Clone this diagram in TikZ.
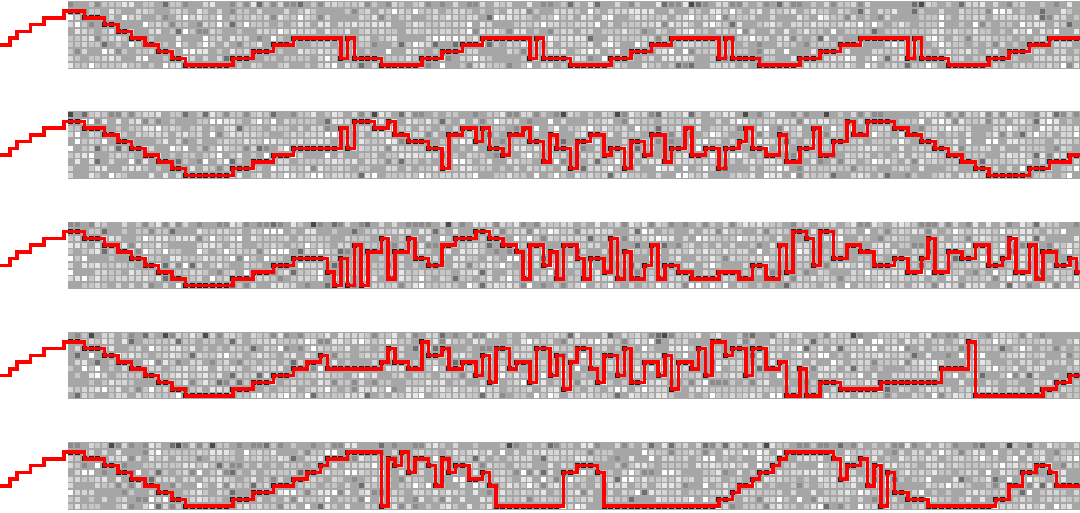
\documentclass[tikz,border=0pt]{standalone}
\definecolor{gbg}{HTML}{A6A6A6}
\definecolor{g1}{HTML}{FFFFFF}
\definecolor{g2}{HTML}{E6E6E6}
\definecolor{g3}{HTML}{D6D6D6}
\definecolor{g4}{HTML}{C6C6C6}
\definecolor{g5}{HTML}{8C8C8C}
\definecolor{g6}{HTML}{6E6E6E}
\definecolor{g7}{HTML}{4A4A4A}
\definecolor{g8}{HTML}{1E1E1E}
\tikzset{redpath/.style={draw=red, line width=3.6pt, line join=miter, line cap=butt}}
\newcommand\pickcolor[2]{%
  \ifnum#2=0
    \ifnum#1<10 \def\cc{gbg}\else\ifnum#1<17 \def\cc{g5}\else\ifnum#1<20 \def\cc{g6}\else\ifnum#1<21 \def\cc{g7}\else\ifnum#1<29 \def\cc{g4}\else\ifnum#1<36 \def\cc{g3}\else\def\cc{g2}\fi\fi\fi\fi\fi\fi
  \else
    \ifnum#1<9 \def\cc{gbg}\else\ifnum#1<20 \def\cc{g4}\else\ifnum#1<29 \def\cc{g3}\else\ifnum#1<34 \def\cc{g2}\else\ifnum#1<37 \def\cc{g1}\else\ifnum#1<39 \def\cc{g5}\else\def\cc{g6}\fi\fi\fi\fi\fi\fi
  \fi}
\newcommand\drawpanel[2]{%
  \pgfmathsetmacro\ptop{1+110.25*#1}
  \fill[gbg] (67.5,\ptop) rectangle (1080,\ptop+67.5);
  \foreach \c in {0,...,149}{
    \foreach \r in {0,...,9}{
      \pgfmathrandominteger{\v}{0}{39}
      \pickcolor{\v}{\r}
      \fill[\cc] ({67.5+6.75*\c+0.9},{\ptop+6.75*\r+0.9}) rectangle ++(4.95,4.95);
    }
  }
  \foreach \c/\r [remember=\c as \lc (initially -10), remember=\r as \lr (initially 6)] in #2 {
    \pgfmathtruncatemacro\cm{\c-1}
    \foreach \j in {\lc,...,\cm}{
      \ifnum\j>-1 \ifnum\j<150
        \fill[g8] ({67.5+6.75*\j+0.9},{\ptop+6.75*\lr+0.9}) rectangle ++(4.95,4.95);
      \fi\fi
    }
  }
  \draw[redpath] (0,{\ptop+3.375+6.75*6})
    \foreach \c/\r in #2 { -| ({70.875+6.75*\c},{\ptop+3.375+6.75*\r}) };
}
\def\pathA{-9/5,-8/4,-6/3,-4/2,-1/1,2/2,5/3,7/4,9/5,11/6,13/7,15/8,17/9,24/8,27/7,30/6,33/5,40/8,41/5,42/8,46/9,52/8,55/7,58/6,61/5,68/8,69/5,70/8,74/9,80/8,83/7,86/6,89/5,96/8,97/5,98/8,102/9,108/8,111/7,114/6,117/5,124/8,125/5,126/8,130/9,136/8,139/7,142/6,145/5,152/5}
\def\pathB{-9/5,-8/4,-6/3,-4/2,-1/1,2/2,5/3,7/4,9/5,11/6,13/7,15/8,17/9,24/8,27/7,30/6,33/5,40/2,41/5,42/1,45/2,47/1,48/3,50/4,53/5,55/8,56/3,58/2,60/4,61/2,62/5,64/6,65/3,67/2,68/4,70/7,71/3,72/5,74/8,75/4,77/3,79/6,80/5,82/8,83/4,85/6,86/3,88/7,89/5,91/2,92/6,94/5,96/8,97/5,99/4,100/2,101/5,103/6,105/3,106/7,108/5,110/2,111/6,113/4,115/1,116/3,118/1,122/2,124/3,126/4,128/5,130/6,132/7,134/8,136/9,142/8,145/7,148/6,152/6}
\def\pathC{-9/5,-8/4,-6/3,-4/2,-1/1,2/2,5/3,7/4,9/5,11/6,13/7,15/8,17/9,24/8,27/7,30/6,33/5,38/7,39/9,40/5,41/9,42/3,43/9,44/4,46/2,47/8,48/4,50/2,51/5,53/6,55/3,57/2,60/1,62/2,64/3,66/4,67/8,68/3,70/6,71/4,72/8,73/3,75/5,76/8,77/5,79/7,80/2,81/8,82/4,83/8,85/6,86/3,87/8,88/6,90/7,92/8,96/7,99/8,101/6,103/8,105/3,106/7,107/1,109/2,110/6,111/1,113/5,115/3,117/4,119/6,122/5,124/7,126/5,127/2,128/7,130/4,132/5,134/3,136/6,138/5,139/2,140/7,142/3,143/8,144/4,146/6,148/5,149/7,152/7}
\def\pathD{-9/5,-8/4,-6/3,-4/2,-1/1,2/2,5/3,7/4,9/5,11/6,13/7,15/8,17/9,24/8,27/7,30/6,33/5,35/4,37/3,38/5,46/4,47/2,48/4,50/5,52/1,53/3,55/2,56/5,58/4,60/6,61/3,62/7,63/2,65/5,66/4,68/7,69/2,71/6,72/3,73/8,74/4,75/2,77/5,78/7,79/3,81/6,82/2,83/7,85/4,87/6,88/3,89/8,90/4,92/5,93/2,94/6,95/1,97/3,98/2,100/6,101/2,103/5,105/4,106/9,108/5,109/9,111/7,114/8,120/7,129/5,133/1,134/9,144/8,146/7,148/6,152/6}
\def\pathE{-9/5,-8/4,-6/3,-4/2,-1/1,2/2,5/3,7/4,9/5,11/6,13/7,15/8,17/9,24/8,27/7,30/6,33/5,35/4,37/3,38/2,41/1,46/9,47/2,48/3,49/1,50/4,51/2,53/3,54/6,55/2,56/4,57/3,59/5,61/4,62/6,63/9,73/4,75/3,78/4,79/9,96/8,98/7,99/6,101/5,102/4,104/3,105/2,106/1,113/2,114/5,115/3,117/2,118/6,119/3,120/9,121/4,122/7,124/8,127/9,137/8,139/6,141/4,143/3,145/4,146/6,152/6}
\begin{document}
\begin{tikzpicture}[x=1pt,y=-1pt]
\useasboundingbox (0,0) rectangle (1080,512);
\pgfmathsetseed{4711}
\drawpanel{0}{\pathA}
\drawpanel{1}{\pathB}
\drawpanel{2}{\pathC}
\drawpanel{3}{\pathD}
\drawpanel{4}{\pathE}
\end{tikzpicture}
\end{document}
